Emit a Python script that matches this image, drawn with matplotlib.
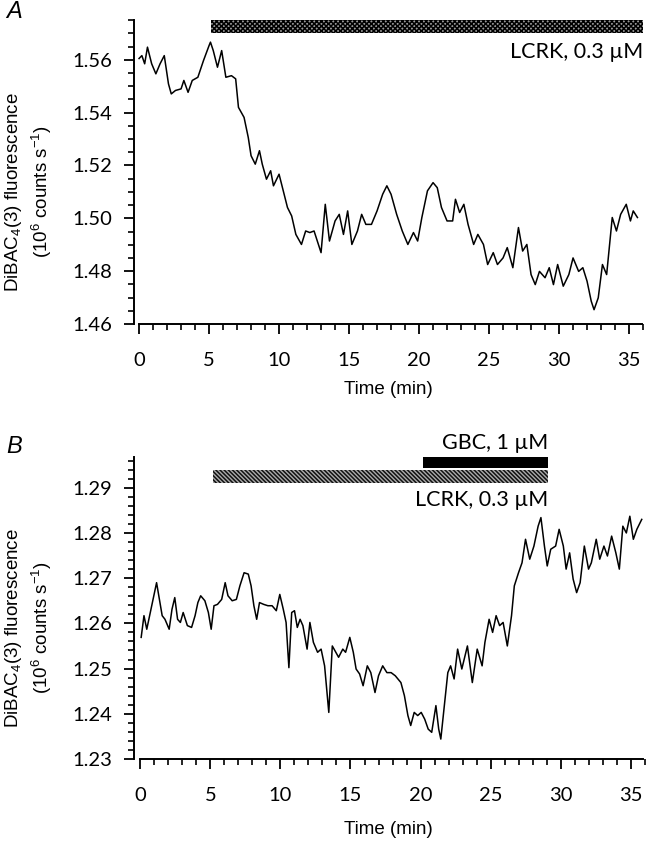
import numpy as np
import matplotlib
matplotlib.use("Agg")
import matplotlib.pyplot as plt
from matplotlib.ticker import MultipleLocator, FormatStrFormatter

# ---- data ----
# panel A: time (min) and DiBAC4(3) fluorescence (10^6 counts/s)
t_a = [0.0, 0.2, 0.4, 0.6, 0.9, 1.2, 1.5, 1.8, 2.1, 2.3, 2.6, 3.0, 3.2, 3.5, 3.8,
       4.2, 4.6, 5.0, 5.1, 5.3, 5.6, 5.9, 6.2, 6.6, 6.9, 7.1, 7.5, 7.8, 8.0, 8.3,
       8.6, 8.8, 9.1, 9.4, 9.6, 10.0, 10.3, 10.6, 10.9, 11.2, 11.6, 11.9, 12.2,
       12.5, 13.0, 13.3, 13.6, 14.0, 14.3, 14.6, 14.9, 15.2, 15.6, 15.9, 16.2,
       16.6, 17.0, 17.4, 17.7, 18.0, 18.4, 18.8, 19.2, 19.6, 19.9, 20.2, 20.6,
       21.0, 21.3, 21.6, 22.0, 22.4, 22.6, 22.9, 23.2, 23.5, 23.9, 24.2, 24.6,
       24.9, 25.3, 25.6, 26.0, 26.3, 26.7, 27.1, 27.4, 27.7, 28.0, 28.3, 28.6,
       29.0, 29.3, 29.6, 29.9, 30.3, 30.7, 31.0, 31.4, 31.7, 32.0, 32.3, 32.5,
       32.8, 33.1, 33.4, 33.8, 34.1, 34.4, 34.8, 35.1, 35.3, 35.6]
f_a = [1.5605, 1.5616, 1.5585, 1.5648, 1.5585, 1.5547, 1.5585, 1.5616, 1.5509,
       1.5471, 1.5484, 1.5490, 1.5522, 1.5477, 1.5522, 1.5534, 1.5597, 1.5654,
       1.5667, 1.5635, 1.5572, 1.5635, 1.5534, 1.5540, 1.5528, 1.5420, 1.5382,
       1.5306, 1.5237, 1.5205, 1.5256, 1.5205, 1.5148, 1.5180, 1.5123, 1.5167,
       1.5104, 1.5041, 1.5009, 1.4939, 1.4901, 1.4952, 1.4946, 1.4952, 1.4870,
       1.5053, 1.4914, 1.4990, 1.5015, 1.4939, 1.5028, 1.4901, 1.4952, 1.5015,
       1.4977, 1.4977, 1.5028, 1.5091, 1.5123, 1.5091, 1.5015, 1.4952, 1.4901,
       1.4946, 1.4914, 1.5003, 1.5104, 1.5135, 1.5116, 1.5041, 1.4990, 1.4990,
       1.5072, 1.5022, 1.5053, 1.4977, 1.4901, 1.4939, 1.4901, 1.4825, 1.4870,
       1.4825, 1.4850, 1.4889, 1.4813, 1.4965, 1.4876, 1.4901, 1.4787, 1.4749,
       1.4799, 1.4775, 1.4813, 1.4749, 1.4825, 1.4743, 1.4787, 1.4850, 1.4799,
       1.4813, 1.4762, 1.4686, 1.4654, 1.4699, 1.4825, 1.4787, 1.5003, 1.4952,
       1.5015, 1.5053, 1.4990, 1.5028, 1.5003]

# panel B
t_b = [0.05, 0.25, 0.45, 0.75, 0.95, 1.15, 1.35, 1.55, 1.75, 2.05, 2.25, 2.45,
       2.65, 2.85, 3.05, 3.35, 3.65, 3.9, 4.1, 4.3, 4.6, 4.85, 5.05, 5.25, 5.5,
       5.8, 6.05, 6.25, 6.55, 6.85, 7.1, 7.4, 7.7, 7.9, 8.1, 8.3, 8.5, 8.8, 9.1,
       9.4, 9.7, 9.95, 10.2, 10.4, 10.6, 10.8, 11.0, 11.2, 11.4, 11.6, 11.9,
       12.1, 12.35, 12.65, 12.9, 13.15, 13.45, 13.7, 13.95, 14.15, 14.45, 14.65,
       14.95, 15.2, 15.4, 15.65, 15.9, 16.2, 16.45, 16.75, 17.0, 17.3, 17.6,
       17.9, 18.2, 18.6, 18.85, 19.1, 19.3, 19.55, 19.8, 20.05, 20.3, 20.55,
       20.8, 21.1, 21.3, 21.45, 21.7, 21.95, 22.15, 22.4, 22.65, 22.95, 23.35,
       23.7, 24.05, 24.4, 24.6, 24.9, 25.15, 25.4, 25.65, 25.9, 26.2, 26.5,
       26.7, 27.0, 27.25, 27.5, 27.8, 28.1, 28.4, 28.6, 28.85, 29.05, 29.3,
       29.65, 29.9, 30.2, 30.4, 30.65, 30.9, 31.15, 31.4, 31.7, 32.0, 32.2,
       32.55, 32.8, 33.1, 33.35, 33.65, 33.95, 34.2, 34.45, 34.7, 34.95, 35.2,
       35.45, 35.8]
f_b = [1.2569, 1.2617, 1.2587, 1.2631, 1.2661, 1.2690, 1.2653, 1.2617, 1.2609,
       1.2587, 1.2631, 1.2657, 1.2609, 1.2602, 1.2624, 1.2595, 1.2591, 1.2617,
       1.2646, 1.2661, 1.2650, 1.2624, 1.2587, 1.2639, 1.2642, 1.2653, 1.2690,
       1.2661, 1.2650, 1.2653, 1.2683, 1.2712, 1.2709, 1.2683, 1.2639, 1.2609,
       1.2646, 1.2642, 1.2639, 1.2639, 1.2628, 1.2664, 1.2631, 1.2602, 1.2502,
       1.2624, 1.2628, 1.2591, 1.2609, 1.2595, 1.2543, 1.2602, 1.2558, 1.2536,
       1.2543, 1.2506, 1.2403, 1.2550, 1.2536, 1.2525, 1.2543, 1.2536, 1.2569,
       1.2536, 1.2499, 1.2488, 1.2462, 1.2506, 1.2491, 1.2447, 1.2484, 1.2506,
       1.2491, 1.2491, 1.2484, 1.2469, 1.2440, 1.2396, 1.2374, 1.2403, 1.2396,
       1.2403, 1.2388, 1.2366, 1.2359, 1.2418, 1.2366, 1.2344, 1.2418, 1.2491,
       1.2506, 1.2477, 1.2543, 1.2499, 1.2550, 1.2469, 1.2543, 1.2506, 1.2558,
       1.2609, 1.2580, 1.2617, 1.2595, 1.2602, 1.2550, 1.2617, 1.2683, 1.2712,
       1.2734, 1.2786, 1.2742, 1.2771, 1.2815, 1.2834, 1.2771, 1.2727, 1.2764,
       1.2771, 1.2808, 1.2771, 1.2720, 1.2756, 1.2698, 1.2668, 1.2690, 1.2771,
       1.2720, 1.2734, 1.2786, 1.2742, 1.2771, 1.2749, 1.2793, 1.2756, 1.2720,
       1.2815, 1.2800, 1.2837, 1.2786, 1.2808, 1.2830]

# drug application periods (min)
lcrk_a = (5.15, 36.0)
lcrk_b = (5.2, 29.1)
gbc_b = (20.2, 29.1)

plt.rcParams['mathtext.fontset'] = 'custom'
plt.rcParams['mathtext.rm'] = 'Liberation Sans'
plt.rcParams['mathtext.it'] = 'Liberation Sans:italic'
plt.rcParams['hatch.linewidth'] = 1.1

tick_font = 'Lato'
lab_font = 'Liberation Sans'

fig = plt.figure(figsize=(6.5, 8.49), dpi=100)
ax_a = fig.add_axes([0.2062, 0.6184, 0.7831, 0.3581])
ax_b = fig.add_axes([0.2062, 0.1060, 0.7854, 0.3557])


def style(ax, ymaj, ymin):
    for s in ['top', 'right']:
        ax.spines[s].set_visible(False)
    for s in ['left', 'bottom']:
        ax.spines[s].set_linewidth(1.4)
    ax.spines['bottom'].set_bounds(0, 35.9)
    ax.xaxis.set_major_locator(MultipleLocator(5))
    ax.xaxis.set_minor_locator(MultipleLocator(1))
    ax.yaxis.set_major_locator(MultipleLocator(ymaj))
    ax.yaxis.set_minor_locator(MultipleLocator(ymin))
    ax.yaxis.set_major_formatter(FormatStrFormatter('%.2f'))
    ax.tick_params(which='major', direction='out', length=7, width=1.3)
    ax.tick_params(which='minor', direction='out', length=4.3, width=1.2)
    ax.tick_params(axis='x', which='major', pad=13.5)
    ax.tick_params(axis='y', which='major', pad=9)
    for lab in ax.get_xticklabels() + ax.get_yticklabels():
        lab.set_fontfamily(tick_font)
        lab.set_fontsize(14.5)


# ---- panel A ----
ax_a.plot(t_a, f_a, color='black', lw=1.1)
ax_a.set_xlim(-0.36, 36)
ax_a.set_ylim(1.45999, 1.5751)
style(ax_a, 0.02, 0.005)
ax_a.fill_between(lcrk_a, 1.5701, 1.5751, facecolor='#999999', edgecolor='black',
                  hatch='xxxxxxx', linewidth=0, clip_on=False)
ax_a.text(36, 1.5628, 'LCRK, 0.3 \u00b5M', ha='right', va='center',
          fontsize=15.5, fontfamily=tick_font)

# ---- panel B ----
ax_b.plot(t_b, f_b, color='black', lw=1.1)
ax_b.set_xlim(-0.46, 36)
ax_b.set_ylim(1.22999, 1.2968)
style(ax_b, 0.01, 0.002)
ax_b.fill_between(lcrk_b, 1.2910, 1.2940, facecolor='#aaaaaa', edgecolor='#111111',
                  hatch='\\\\\\\\\\\\\\\\', linewidth=0, clip_on=False)
ax_b.fill_between(gbc_b, 1.2943, 1.2968, color='black', linewidth=0, clip_on=False)
ax_b.text(lcrk_b[1], 1.2999, 'GBC, 1 \u00b5M', ha='right', va='center',
          fontsize=15.5, fontfamily=tick_font)
ax_b.text(lcrk_b[1], 1.2872, 'LCRK, 0.3 \u00b5M', ha='right', va='center',
          fontsize=15.5, fontfamily=tick_font)

# ---- labels ----
for yc, xl_y in [(1 - 192 / 849, 1 - 390 / 849), (1 - 628 / 849, 1 - 830 / 849)]:
    fig.text(14 / 650, yc, r'DiBAC$_4$(3) fluorescence', rotation=90,
             ha='center', va='center', fontsize=13.5, fontfamily=lab_font)
    fig.text(42 / 650, yc, r'(10$^6$ counts s$^{-1}$)', rotation=90,
             ha='center', va='center', fontsize=13.5, fontfamily=lab_font)
    fig.text(388 / 650, xl_y, 'Time (min)', ha='center', va='center',
             fontsize=13.5, fontfamily=lab_font)

fig.text(14 / 650, 1 - 12 / 849, 'A', ha='center', va='center', fontsize=17,
         fontstyle='italic', fontfamily=lab_font)
fig.text(14 / 650, 1 - 447 / 849, 'B', ha='center', va='center', fontsize=17,
         fontstyle='italic', fontfamily=lab_font)

fig.savefig('out.png', dpi=100)
